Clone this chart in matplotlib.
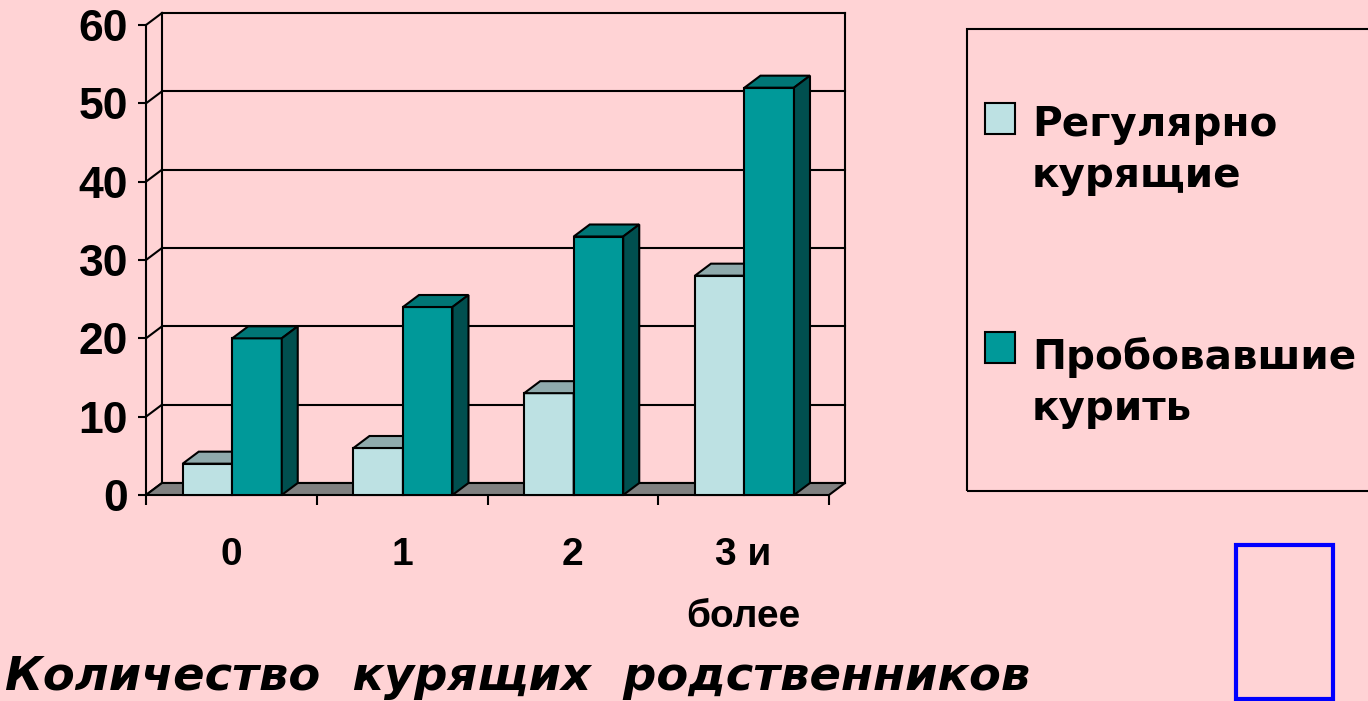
import matplotlib
matplotlib.use("Agg")
import matplotlib.pyplot as plt
from matplotlib.patches import Polygon, Rectangle

# ---- data -------------------------------------------------------------
categories = ["0", "1", "2", "3 и\nболее"]
regular_smokers = [4, 6, 13, 28]
tried_smoking = [20, 24, 33, 52]
series_names = ["Регулярно\nкурящие", "Пробовавшие\nкурить"]
y_ticks = [0, 10, 20, 30, 40, 50, 60]
x_title = "Количество  курящих  родственников"

# ---- style ------------------------------------------------------------
BG = "#FFD3D5"
LIGHT = dict(front="#BDE1E3", top="#8FAAAC", side="#6F8F91")
DARK = dict(front="#009999", top="#007676", side="#004F4F")
FLOOR = "#808080"
EDGE_LW = 1.5
BAR_W = 0.29          # width of one bar in category units
GROUP_START = 0.215   # left edge of the first bar inside a category
DEPTH_PX = (16, 12)   # 3-D depth of walls and bars, in pixels

W, H = 1368, 701
fig = plt.figure(figsize=(W / 100, H / 100), dpi=100, facecolor=BG)


def fx(px):
    return px / W


def fy(py):
    return 1 - py / H


n = len(categories)
ymax = y_ticks[-1]
ax = fig.add_axes([fx(146), fy(495), (829 - 146) / W, (495 - 25) / H])
ax.set_xlim(0, n)
ax.set_ylim(0, ymax)
ax.patch.set_visible(False)

# depth expressed in data units
ax_w_px = ax.get_position().width * W
ax_h_px = ax.get_position().height * H
dx = DEPTH_PX[0] * n / ax_w_px
dy = DEPTH_PX[1] * ymax / ax_h_px

line_kw = dict(color="black", lw=EDGE_LW, clip_on=False, solid_capstyle="projecting")

# back wall gridlines and the slanted lines on the side wall
for v in y_ticks:
    ax.plot([dx, n + dx], [v + dy, v + dy], zorder=1, **line_kw)
    ax.plot([0, dx], [v, v + dy], zorder=1, **line_kw)
ax.plot([dx, dx], [dy, ymax + dy], zorder=1, **line_kw)
ax.plot([n + dx, n + dx], [dy, ymax + dy], zorder=1, **line_kw)

# floor
ax.add_patch(Polygon([(0, 0), (n, 0), (n + dx, dy), (dx, dy)], closed=True,
                     facecolor=FLOOR, edgecolor="black", lw=EDGE_LW,
                     zorder=2, clip_on=False))


def draw_series(values, offset, colors, z_shift):
    lefts = [i + offset for i in range(n)]
    bars = ax.bar(lefts, values, width=BAR_W, align="edge",
                  color=colors["front"], edgecolor="black", lw=EDGE_LW)
    for i, (rect, v) in enumerate(zip(bars, values)):
        z = 10 + 3 * i + z_shift
        rect.set_zorder(z)
        rect.set_clip_on(False)
        x0, x1 = rect.get_x(), rect.get_x() + rect.get_width()
        top = Polygon([(x0, v), (x1, v), (x1 + dx, v + dy), (x0 + dx, v + dy)],
                      closed=True, facecolor=colors["top"], edgecolor="black",
                      lw=EDGE_LW, zorder=z, clip_on=False)
        side = Polygon([(x1, 0), (x1 + dx, dy), (x1 + dx, v + dy), (x1, v)],
                       closed=True, facecolor=colors["side"], edgecolor="black",
                       lw=EDGE_LW, zorder=z, clip_on=False)
        ax.add_patch(top)
        ax.add_patch(side)


draw_series(regular_smokers, GROUP_START, LIGHT, 0)
draw_series(tried_smoking, GROUP_START + BAR_W, DARK, 1)

# axes: front vertical axis and tick marks
for s in ("top", "right", "bottom"):
    ax.spines[s].set_visible(False)
ax.spines["left"].set_linewidth(EDGE_LW)
ax.spines["left"].set_zorder(50)

ax.set_yticks(y_ticks)
ax.set_yticklabels([str(v) for v in y_ticks], fontsize=32, fontweight="bold",
                   family=["Liberation Sans", "DejaVu Sans"])
ax.tick_params(axis="y", direction="out", length=5.8, width=EDGE_LW, pad=7)

ax.set_xticks(range(n + 1))
ax.set_xticklabels([])
ax.tick_params(axis="x", which="major", direction="out", length=7, width=EDGE_LW)
ax.set_xticks([i + 0.5 for i in range(n)], labels=categories, minor=True,
              fontsize=28, fontweight="bold",
              family=["Liberation Sans", "DejaVu Sans"])
for t in ax.get_xticklabels(minor=True):
    t.set_linespacing(1.95)
ax.tick_params(axis="x", which="minor", length=0, pad=30)

# axis title
fig.text(fx(5), fy(690), x_title, fontsize=33.4, fontweight="bold",
         fontstyle="italic", family="DejaVu Sans", va="baseline", ha="left")

# legend box
fig.add_artist(Rectangle((fx(967), fy(491)), fx(1420) - fx(967), fy(29) - fy(491),
                         transform=fig.transFigure, facecolor="none",
                         edgecolor="black", lw=EDGE_LW))
# (label, colour, top of swatch, baseline of the last text line) in pixels
legend_rows = [(series_names[0], LIGHT["front"], 103, 187),
               (series_names[1], DARK["front"], 332, 420)]
for label, col, top_px, base_px in legend_rows:
    fig.add_artist(Rectangle((fx(985), fy(top_px + 31)), fx(30), fy(0) - fy(31),
                             transform=fig.transFigure, facecolor=col,
                             edgecolor="black", lw=EDGE_LW))
    fig.text(fx(1032), fy(base_px), label, fontsize=29.2, fontweight="bold",
             family="DejaVu Sans", va="baseline", ha="left", linespacing=1.37)

# empty blue frame at the lower right
fig.add_artist(Rectangle((fx(1236), fy(699)), fx(1333) - fx(1236), fy(545) - fy(699),
                         transform=fig.transFigure, facecolor="none",
                         edgecolor="#0000FF", lw=3))

fig.savefig("out.png", dpi=100, facecolor=BG)
